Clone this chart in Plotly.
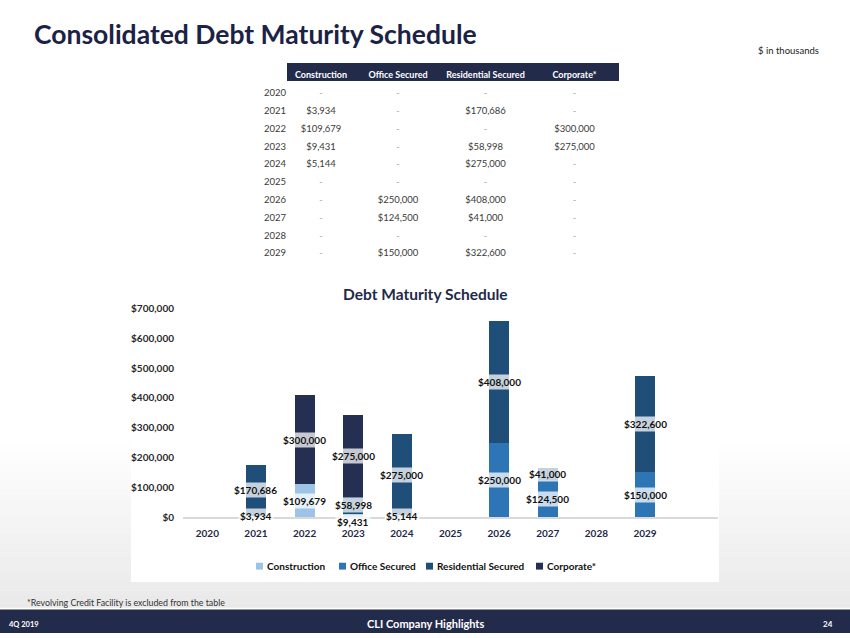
import plotly.graph_objects as go

# ---------------- data ----------------
years = ["2020", "2021", "2022", "2023", "2024", "2025", "2026", "2027", "2028", "2029"]
construction = [0, 3934, 109679, 9431, 5144, 0, 0, 0, 0, 0]
office_secured = [0, 0, 0, 0, 0, 0, 250000, 124500, 0, 150000]
residential_secured = [0, 170686, 0, 58998, 275000, 0, 408000, 41000, 0, 322600]
corporate = [0, 0, 300000, 275000, 0, 0, 0, 0, 0, 0]

series_names = ["Construction", "Office Secured", "Residential Secured", "Corporate*"]
series_values = [construction, office_secured, residential_secured, corporate]
series_colors = ["#9dc3e6", "#2e75b6", "#1f4e79", "#252f52"]

y_ticks = [0, 100000, 200000, 300000, 400000, 500000, 600000, 700000]
y_ticklabels = ["$0", "$100,000", "$200,000", "$300,000", "$400,000", "$500,000", "$600,000", "$700,000"]

W, H = 850, 638
NAVY = "#232b4b"
FONT = "Lato"


def px(x):
    return x / W


def py(y):
    return 1 - y / H


def money(v):
    return "${:,.0f}".format(v)


fig = go.Figure()

# ---------------- stacked bars ----------------
for name, vals, col in zip(series_names, series_values, series_colors):
    fig.add_trace(go.Bar(
        x=years, y=vals, name=name, marker=dict(color=col, line=dict(width=0)),
        hoverinfo="skip", showlegend=False,
    ))

# data labels centred in segments (category axis -> use category index)
label_shift = {("Construction", "2023"): -6}
annotations = []
base = [0] * len(years)
for name, vals in zip(series_names, series_values):
    for i, v in enumerate(vals):
        if v > 0:
            annotations.append(dict(
                x=i, y=base[i] + v / 2, xref="x", yref="y",
                text="<b>" + money(v) + "</b>", showarrow=False,
                font=dict(family=FONT, size=10, color="#111111"),
                bgcolor="rgba(255,255,255,0.74)", borderpad=1,
                yshift=label_shift.get((name, years[i]), 0),
            ))
        base[i] += v

# ---------------- table ----------------
def cell_text(vals):
    return [money(v) if v > 0 else "-" for v in vals]


def cell_color(vals):
    return ["#3a3a3a" if v > 0 else "#a8a8a8" for v in vals]


fig.add_trace(go.Table(
    domain=dict(x=[px(263), px(619)], y=[py(273), py(58)]),
    columnwidth=[24, 68, 86, 89, 89],
    header=dict(
        # non-breaking spaces + no markup keep the header on one 18px line
        values=[""] + [n.replace(" ", "\u00a0") for n in series_names],
        fill_color=["white", NAVY, NAVY, NAVY, NAVY],
        line=dict(width=0, color="rgba(0,0,0,0)"),
        font=dict(family=FONT, size=9, color="white", weight="bold"),
        align="center", height=18,
    ),
    cells=dict(
        values=[years] + [cell_text(v) for v in series_values],
        fill_color="rgba(0,0,0,0)",
        line=dict(width=0, color="rgba(0,0,0,0)"),
        font=dict(family=FONT, size=9.5,
                  color=[["#3a3a3a"] * len(years)] + [cell_color(v) for v in series_values]),
        align="center", height=17.8,
    ),
))

# ---------------- background shapes ----------------
shapes = []
g_top, g_bot = 440, 612
steps = 40
for k in range(steps):
    y0 = g_top + (g_bot - g_top) * k / steps
    y1 = g_top + (g_bot - g_top) * (k + 1) / steps
    t = (k + 0.5) / steps
    c = int(round(255 - (255 - 233) * t))
    shapes.append(dict(type="rect", xref="paper", yref="paper",
                       x0=0, x1=1, y0=py(y1) - 0.0005, y1=py(y0),
                       fillcolor=f"rgb({c},{c},{c})", line=dict(width=0), layer="below"))
shapes.append(dict(type="rect", xref="paper", yref="paper",
                   x0=px(131), x1=px(719), y0=py(586), y1=py(280),
                   fillcolor="white", line=dict(width=0), layer="below"))
shapes.append(dict(type="rect", xref="paper", yref="paper",
                   x0=0, x1=1, y0=0, y1=py(614),
                   fillcolor=NAVY, line=dict(width=0), layer="above"))

# ---------------- custom legend (small square swatches) ----------------
legend_x = [256, 339, 426, 536]
legend_y = 570
for name, col, lx in zip(series_names, series_colors, legend_x):
    shapes.append(dict(type="rect", xref="paper", yref="paper",
                       x0=px(lx), x1=px(lx + 7), y0=py(legend_y + 3.5), y1=py(legend_y - 3.5),
                       fillcolor=col, line=dict(width=0), layer="above"))
    annotations.append(dict(x=px(lx + 9), y=py(legend_y), xref="paper", yref="paper",
                            xanchor="left", yanchor="middle", text="<b>" + name + "</b>",
                            showarrow=False, font=dict(family=FONT, size=10, color="#111111")))

# ---------------- page texts ----------------
annotations += [
    dict(x=px(32), y=py(29), xref="paper", yref="paper", xanchor="left", yanchor="middle",
         text="<b>Consolidated Debt Maturity Schedule</b>", showarrow=False,
         font=dict(family=FONT, size=26.5, color="#1b2244")),
    dict(x=px(821), y=py(45), xref="paper", yref="paper", xanchor="right", yanchor="middle",
         text="$ in thousands", showarrow=False,
         font=dict(family=FONT, size=9.5, color="#222222")),
    dict(x=px(425), y=py(293), xref="paper", yref="paper", xanchor="center", yanchor="middle",
         text="<b>Debt Maturity Schedule</b>", showarrow=False,
         font=dict(family=FONT, size=15.5, color="#1f2a48")),
    dict(x=px(25), y=py(607), xref="paper", yref="paper", xanchor="left", yanchor="middle",
         text="*Revolving Credit Facility is excluded from the table", showarrow=False,
         font=dict(family=FONT, size=8.8, color="#333333")),
    dict(x=px(7), y=py(629), xref="paper", yref="paper", xanchor="left", yanchor="middle",
         text="<b>4Q 2019</b>", showarrow=False,
         font=dict(family=FONT, size=7.5, color="white")),
    dict(x=px(425), y=py(628), xref="paper", yref="paper", xanchor="center", yanchor="middle",
         text="<b>CLI Company Highlights</b>", showarrow=False,
         font=dict(family=FONT, size=11, color="white")),
    dict(x=px(835), y=py(629), xref="paper", yref="paper", xanchor="right", yanchor="middle",
         text="<b>24</b>", showarrow=False,
         font=dict(family=FONT, size=8, color="white")),
]

fig.update_layout(
    width=W, height=H,
    margin=dict(l=0, r=0, t=0, b=0),
    paper_bgcolor="white", plot_bgcolor="rgba(0,0,0,0)",
    barmode="stack", bargap=0.59,
    font=dict(family=FONT),
    showlegend=False,
    xaxis=dict(domain=[px(183), px(718)], type="category", range=[-0.5, 10.5],
               showgrid=False, zeroline=False, showline=True, linecolor="#d9d9d9",
               linewidth=2, layer="below traces", ticks="",
               tickfont=dict(family=FONT, size=10, color="#1f2a48"),
               tickprefix="<b>", ticksuffix="</b>", ticklabelstandoff=6, fixedrange=True),
    yaxis=dict(domain=[py(520), py(308)], range=[0, 700000], showgrid=False,
               zeroline=False, showline=False, tickvals=y_ticks,
               ticktext=["<b>" + t + "</b>" for t in y_ticklabels],
               tickfont=dict(family=FONT, size=10, color="#2a2a2a"),
               ticklabelstandoff=8, fixedrange=True),
    shapes=shapes,
    annotations=annotations,
)

fig.write_html("out.html", config={"displayModeBar": False, "staticPlot": True},
               post_script="document.body.style.margin='0px';document.body.style.overflow='hidden';")
